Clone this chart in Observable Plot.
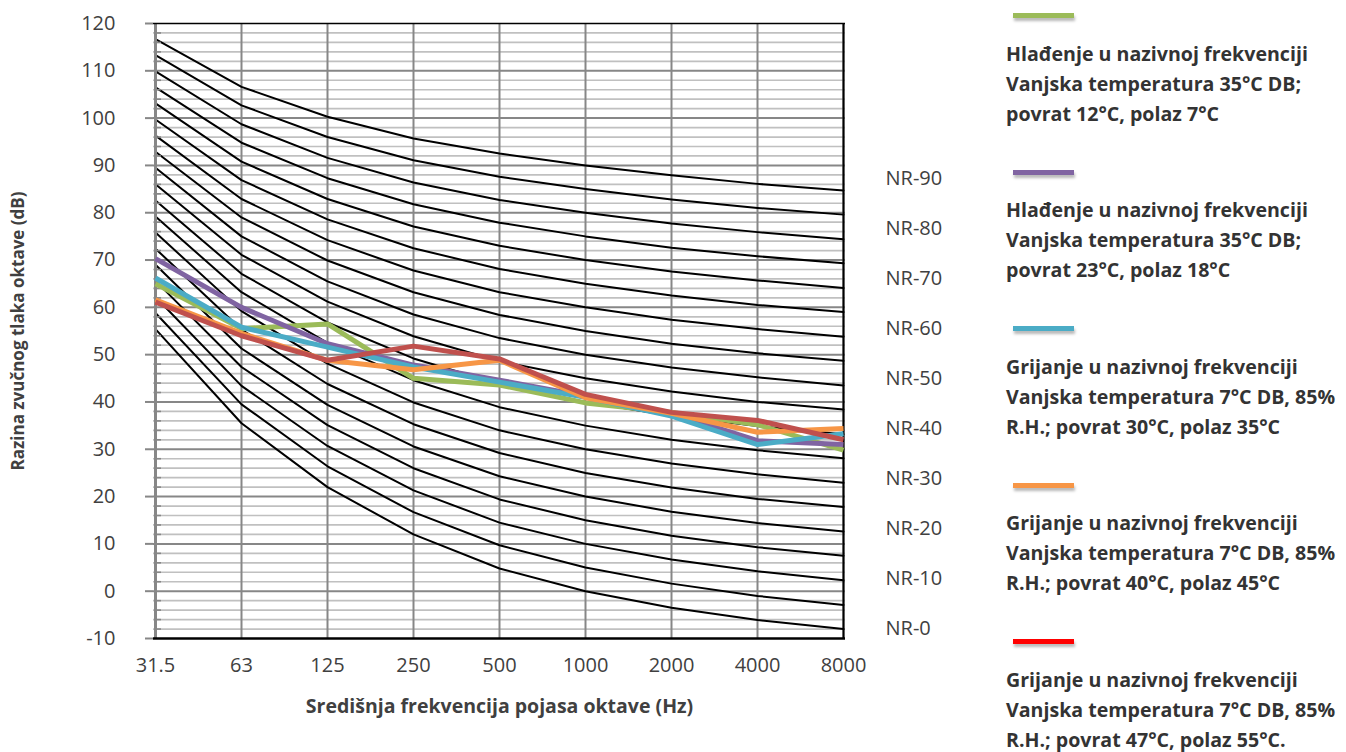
<!DOCTYPE html>
<html>
<head>
<meta charset="utf-8">
<script src="https://cdn.jsdelivr.net/npm/d3@7"></script>
<script src="https://cdn.jsdelivr.net/npm/@observablehq/plot@0.6"></script>
<style>
  html, body { margin: 0; padding: 0; background: #fff; }
  #wrap { position: relative; width: 1346px; height: 752px; overflow: hidden; font-family: "Open Sans", sans-serif; }
  #chart { position: absolute; left: 0; top: 0; }
  .sw { position: absolute; left: 1013px; width: 61px; height: 5px; box-shadow: 1px 3px 3px rgba(0,0,0,0.28); }
  .lt { position: absolute; left: 1006px; font-weight: 700; font-size: 19.6px; line-height: 30px; color: #333; white-space: nowrap; }
</style>
</head>
<body>
<div id="wrap"><div id="chart"></div></div>
<script>
// Octave band centre frequencies (x categories)
const freqLabels = ["31.5", "63", "125", "250", "500", "1000", "2000", "4000", "8000"];

// Y axis ticks
const yTicks = [-10, 0, 10, 20, 30, 40, 50, 60, 70, 80, 90, 100, 110, 120];

// NR curves (NR-0 ... NR-90 in steps of 5), levels in dB per octave band
const nrLevels = [0, 5, 10, 15, 20, 25, 30, 35, 40, 45, 50, 55, 60, 65, 70, 75, 80, 85, 90];
const nrCurveValues = [
  [55.4, 35.5, 22.0, 12.0, 4.8, 0, -3.5, -6.1, -8.0],
  [58.8, 39.5, 26.4, 16.7, 9.7, 5, 1.6, -1.0, -2.9],
  [62.2, 43.4, 30.7, 21.3, 14.5, 10, 6.7, 4.2, 2.3],
  [65.6, 47.4, 35.1, 26.0, 19.4, 15, 11.7, 9.3, 7.5],
  [69.0, 51.3, 39.4, 30.6, 24.3, 20, 16.8, 14.4, 12.6],
  [72.4, 55.3, 43.8, 35.3, 29.2, 25, 21.9, 19.5, 17.8],
  [75.8, 59.2, 48.1, 39.9, 34.0, 30, 27.0, 24.7, 22.9],
  [79.2, 63.2, 52.5, 44.6, 38.9, 35, 32.0, 29.8, 28.1],
  [82.6, 67.1, 56.8, 49.2, 43.8, 40, 37.1, 34.9, 33.2],
  [86.0, 71.1, 61.2, 53.9, 48.6, 45, 42.2, 40.0, 38.4],
  [89.5, 75.0, 65.5, 58.5, 53.5, 50, 47.3, 45.2, 43.5],
  [92.9, 79.0, 69.9, 63.2, 58.4, 55, 52.3, 50.3, 48.7],
  [96.3, 82.9, 74.2, 67.8, 63.2, 60, 57.4, 55.4, 53.8],
  [99.7, 86.9, 78.6, 72.5, 68.1, 65, 62.5, 60.5, 59.0],
  [103.1, 90.8, 82.9, 77.1, 73.0, 70, 67.6, 65.7, 64.1],
  [106.5, 94.8, 87.3, 81.8, 77.9, 75, 72.6, 70.8, 69.3],
  [109.9, 98.7, 91.6, 86.4, 82.7, 80, 77.7, 75.9, 74.4],
  [113.3, 102.7, 96.0, 91.1, 87.6, 85, 82.8, 81.0, 79.6],
  [116.7, 106.6, 100.3, 95.7, 92.5, 90, 87.9, 86.1, 84.7]
];

// Right-hand NR labels and the level (dB) they sit at
const nrLabelText = ["NR-0", "NR-10", "NR-20", "NR-30", "NR-40", "NR-50", "NR-60", "NR-70", "NR-80", "NR-90"];
const nrLabelLevels = [-7.9, 2.7, 13.3, 23.8, 34.4, 45.0, 55.5, 66.1, 76.7, 87.2];

// Measured series (dB)
const cooling12_7 = [65.0, 55.5, 56.5, 45.0, 43.6, 39.8, 37.8, 35.2, 29.8];
const cooling23_18 = [70.3, 60.0, 52.3, 47.8, 44.6, 41.2, 37.6, 31.8, 31.0];
const heating30_35 = [66.2, 55.8, 51.6, 47.4, 44.2, 41.0, 37.0, 31.0, 33.3];
const heating40_45 = [61.6, 54.5, 48.8, 46.8, 48.8, 40.9, 37.6, 33.6, 34.4];
const heating47_55 = [61.1, 54.0, 48.8, 51.8, 49.1, 41.6, 37.8, 36.1, 32.0];

const seriesValues = [cooling12_7, cooling23_18, heating30_35, heating40_45, heating47_55];
const seriesColors = ["#9BBB59", "#8064A2", "#4BACC6", "#F79646", "#C0504D"];
const legendColors = ["#9BBB59", "#8064A2", "#4BACC6", "#F79646", "#FF0000"];
const legendLines = [
  ["Hlađenje u nazivnoj frekvenciji", "Vanjska temperatura 35°C DB;", "povrat 12°C, polaz 7°C"],
  ["Hlađenje u nazivnoj frekvenciji", "Vanjska temperatura 35°C DB;", "povrat 23°C, polaz 18°C"],
  ["Grijanje u nazivnoj frekvenciji", "Vanjska temperatura 7°C DB, 85%", "R.H.; povrat 30°C, polaz 35°C"],
  ["Grijanje u nazivnoj frekvenciji", "Vanjska temperatura 7°C DB, 85%", "R.H.; povrat 40°C, polaz 45°C"],
  ["Grijanje u nazivnoj frekvenciji", "Vanjska temperatura 7°C DB, 85%", "R.H.; povrat 47°C, polaz 55°C."]
];

const xTitle = "Središnja frekvencija pojasa oktave (Hz)";
const yTitle = "Razina zvučnog tlaka oktave (dB)";

const minorTicks = d3.range(-10, 121, 2).filter(v => v % 10 !== 0);
const majorInner = yTicks.filter(v => v > -10 && v < 120);

const marks = [
  Plot.ruleY(minorTicks, {stroke: "#c0c0c0", strokeWidth: 1.7}),
  Plot.ruleY(majorInner, {stroke: "#878787", strokeWidth: 2}),
  Plot.ruleX(freqLabels, {stroke: "#878787", strokeWidth: 2}),
  ...nrCurveValues.map(vals => Plot.line(freqLabels, {x: d => d, y: (d, i) => vals[i], stroke: "#000", strokeWidth: 2})),
  Plot.axisY(yTicks, {tickSize: 8, tickPadding: 30, stroke: "#878787", strokeWidth: 2, fill: "#404040", fontSize: 20, label: null, tickFormat: d => String(d)}),
  Plot.ruleY(minorTicks, {x1: () => "31.5", x2: () => "31.5", y: d => d, insetRight: -6, stroke: "#878787", strokeWidth: 1.6}),
  Plot.axisX({tickSize: 0, tickPadding: 19, fill: "#404040", fontSize: 20, label: null}),
  Plot.ruleX(["31.5"], {stroke: "#878787", strokeWidth: 3}),
  Plot.ruleY([120], {stroke: "#000", strokeWidth: 1.5}),
  Plot.ruleX(["8000"], {stroke: "#000", strokeWidth: 2}),
  Plot.ruleY([-10], {stroke: "#000", strokeWidth: 2.5}),
  ...seriesValues.map((vals, k) => Plot.line(freqLabels, {x: d => d, y: (d, i) => vals[i], stroke: seriesColors[k], strokeWidth: 5, strokeLinejoin: "round", strokeLinecap: "butt"})),
  Plot.text(nrLabelText, {x: () => "8000", y: (d, i) => nrLabelLevels[i], text: d => d, dx: 42, textAnchor: "start", fontSize: 20, fill: "#404040"}),
  Plot.text([xTitle], {frameAnchor: "bottom", dy: 74, text: d => d, textAnchor: "middle", fontSize: 19.5, fontWeight: "bold", fill: "#404040"}),
  Plot.text([yTitle], {frameAnchor: "left", dx: -135, rotate: -90, text: d => d, textAnchor: "middle", fontSize: 17, fontWeight: "bold", fill: "#404040"})
];

const chart = Plot.plot({
  width: 990,
  height: 752,
  marginLeft: 153,
  marginRight: 145,
  marginTop: 23,
  marginBottom: 114,
  style: {fontFamily: "Open Sans", fontSize: "20px", color: "#404040", background: "#fff", overflow: "visible"},
  x: {type: "point", domain: freqLabels, padding: 0},
  y: {domain: [-10, 120]},
  marks
});
document.getElementById("chart").appendChild(chart);

// Legend on the right
const wrap = document.getElementById("wrap");
legendLines.forEach((lines, i) => {
  const c = 15.5 + i * 156.5;
  const sw = document.createElement("div");
  sw.className = "sw";
  sw.style.top = (c - 2.5) + "px";
  sw.style.background = legendColors[i];
  wrap.appendChild(sw);
  const t = document.createElement("div");
  t.className = "lt";
  t.style.top = (c + 23) + "px";
  t.innerHTML = lines.join("<br>");
  wrap.appendChild(t);
});
</script>
</body>
</html>
